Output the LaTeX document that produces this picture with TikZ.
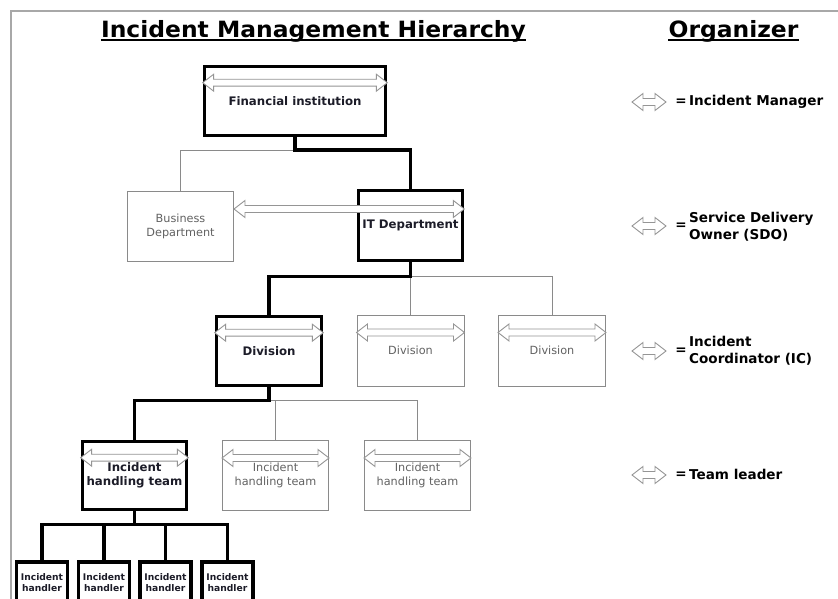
\documentclass[tikz,border=0pt]{standalone}
\usepackage{fontspec}
\usepackage{graphicx}
\setmainfont{DejaVu Sans}
\usetikzlibrary{calc}

\definecolor{linegray}{HTML}{8A8A8A}
\definecolor{textgray}{HTML}{626262}
\definecolor{inkdark}{HTML}{1C1C28}
\definecolor{arrowgray}{HTML}{959595}
\definecolor{framegray}{HTML}{A8A8A8}

% hollow double-headed arrow between two points on one horizontal line
\newcommand{\hollowarrow}[2]{%
  \draw[hollow] let \p1=#1, \p2=#2 in
    (\x1,\y1) -- (\x1+11,\y1+8.5) -- (\x1+11,\y1+3.5) -- (\x2-11,\y1+3.5)
    -- (\x2-11,\y1+8.5) -- (\x2,\y1) -- (\x2-11,\y1-8.5) -- (\x2-11,\y1-3.5)
    -- (\x1+11,\y1-3.5) -- (\x1+11,\y1-8.5) -- cycle;}

\tikzset{
  leadbox/.style={draw=black, line width=3.6bp, fill=white, align=center,
    inner sep=0pt, text=inkdark,
    font=\bfseries\fontsize{11.8}{13.8}\selectfont},
  plainbox/.style={draw=linegray, line width=1bp, fill=white, align=center,
    inner sep=0pt, text=textgray,
    font=\fontsize{11.3}{13.8}\selectfont},
  handlerbox/.style={draw=black, line width=3.4bp, fill=white, align=center,
    inner sep=0pt, text=inkdark, minimum width=51bp, minimum height=42bp,
    font=\bfseries\fontsize{9.2}{11}\selectfont},
  boldlink/.style={draw=black, line width=3.6bp},
  thinlink/.style={draw=linegray, line width=1bp},
  hollow/.style={draw=arrowgray, fill=white, line width=0.9bp, line join=miter},
  titletext/.style={inner sep=0pt, text=black,
    font=\bfseries\fontsize{22.5}{26}\selectfont},
  legendtext/.style={inner sep=0pt, text=black, align=left,
    font=\bfseries\fontsize{13.6}{17}\selectfont},
}

\begin{document}
\begin{tikzpicture}[x=1bp, y=-1bp]
\useasboundingbox (0,0) rectangle (838,599);

% page frame
\draw[framegray, line width=2bp] (11,620) -- (11,11) -- (845,11);

% headings
\node[titletext, anchor=base] (title) at (313.5,37.5)
  {\scalebox{1.045}[1]{Incident Management Hierarchy}};
\node[titletext, anchor=base] (orgtitle) at (733.5,37.5)
  {\scalebox{1.045}[1]{Organizer}};
\draw[line width=2.2bp] ($(title.base west)+(0,2.5)$) -- ($(title.base east)+(0,2.5)$);
\draw[line width=2.2bp] ($(orgtitle.base west)+(0,2.5)$) -- ($(orgtitle.base east)+(0,2.5)$);

% level 1
\node[leadbox, minimum width=181bp, minimum height=69bp] (fi) at (295,101) {Financial institution};

% level 2
\node[plainbox, minimum width=106bp, minimum height=70bp] (bd) at (180.5,226.5) {Business\\Department};
\node[leadbox, minimum width=104bp, minimum height=70bp] (it) at (410.5,225.5) {IT Department};

% level 3
\node[leadbox, minimum width=105bp, minimum height=69bp] (d1) at (269,351) {Division};
\node[plainbox, minimum width=107bp, minimum height=71bp] (d2) at (410.5,350.5) {Division};
\node[plainbox, minimum width=107bp, minimum height=71bp] (d3) at (552,350.5) {Division};

% level 4
\node[leadbox, minimum width=104bp, minimum height=68bp] (t1) at (134.5,475.5) {Incident\\handling team};
\node[plainbox, minimum width=106bp, minimum height=70bp] (t2) at (275.5,475.5) {Incident\\handling team};
\node[plainbox, minimum width=106bp, minimum height=70bp] (t3) at (417.5,475.5) {Incident\\handling team};

% level 5
\node[handlerbox] (h1) at (42,583) {Incident\\handler};
\node[handlerbox] (h2) at (104,583) {Incident\\handler};
\node[handlerbox] (h3) at (165.5,583) {Incident\\handler};
\node[handlerbox] (h4) at (227.5,583) {Incident\\handler};

% junction points
\coordinate (j1) at ($(fi.south)+(0,13)$);
\coordinate (j2) at ($(it.south)+(0,14)$);
\coordinate (j3) at ($(d1.south)+(0,13)$);
\coordinate (j4) at ($(t1.south)+(0,13)$);

% thin connectors
\draw[thinlink] (j1) -| (bd.north);
\draw[thinlink] (j2) -| (d3.north);
\draw[thinlink] (d2.north) -- (d2.north |- j2);
\draw[thinlink] (j3) -| (t3.north);
\draw[thinlink] (t2.north) -- (t2.north |- j3);

% bold connectors
\draw[boldlink] (fi.south) -- (j1) -| (it.north);
\draw[boldlink] (it.south) -- (j2) -| (d1.north);
\draw[boldlink] (d1.south) -- (j3) -| (t1.north);
\draw[boldlink] (t1.south) -- (j4);
\draw[boldlink] (h1.north) -- (h1.north |- j4) -- (h4.north |- j4) -- (h4.north);
\draw[boldlink] (h2.north) -- (h2.north |- j4);
\draw[boldlink] (h3.north) -- (h3.north |- j4);

% role arrows
\hollowarrow{($(fi.north west)+(0,18)$)}{($(fi.north east)+(0,18)$)}
\hollowarrow{($(bd.north east)+(0,18)$)}{($(it.north east)+(0,18)$)}
\hollowarrow{($(d1.north west)+(0,18)$)}{($(d1.north east)+(0,18)$)}
\hollowarrow{($(d2.north west)+(0,18)$)}{($(d2.north east)+(0,18)$)}
\hollowarrow{($(d3.north west)+(0,18)$)}{($(d3.north east)+(0,18)$)}
\hollowarrow{($(t1.north west)+(0,18)$)}{($(t1.north east)+(0,18)$)}
\hollowarrow{($(t2.north west)+(0,18)$)}{($(t2.north east)+(0,18)$)}
\hollowarrow{($(t3.north west)+(0,18)$)}{($(t3.north east)+(0,18)$)}

% legend
\coordinate (lgA) at (632,102);
\coordinate (lgB) at (632,226);
\coordinate (lgC) at (632,351);
\coordinate (lgD) at (632,475);
\hollowarrow{(lgA)}{($(lgA)+(34,0)$)}
\hollowarrow{(lgB)}{($(lgB)+(34,0)$)}
\hollowarrow{(lgC)}{($(lgC)+(34,0)$)}
\hollowarrow{(lgD)}{($(lgD)+(34,0)$)}
\node[legendtext] (eqA) at ($(lgA)+(49,0)$) {=};
\node[legendtext] (eqB) at ($(lgB)+(49,0)$) {=};
\node[legendtext] (eqC) at ($(lgC)+(49,0)$) {=};
\node[legendtext] (eqD) at ($(lgD)+(49,0)$) {=};
\node[legendtext, anchor=west] (roleA) at (689,101.5) {Incident Manager};
\node[legendtext, anchor=west] (roleB) at (689,226.5) {Service Delivery\\Owner (SDO)};
\node[legendtext, anchor=west] (roleC) at (689,350.5) {Incident\\Coordinator (IC)};
\node[legendtext, anchor=west] (roleD) at (689,474) {Team leader};
\end{tikzpicture}
\end{document}
